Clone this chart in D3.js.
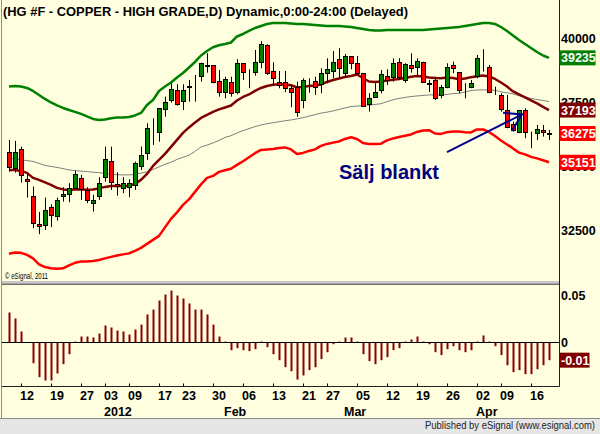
<!DOCTYPE html>
<html>
<head>
<meta charset="utf-8">
<script src="https://cdn.jsdelivr.net/npm/d3@7"></script>
<style>
  body { margin: 0; background: #ffffe0; }
  svg { display: block; }
</style>
</head>
<body>
<div id="chart"></div>
<script>
'use strict';

/* Trading calendar (weekdays minus exchange holidays) */
var firstDay = '2011-12-07';
var lastDay = '2012-04-18';
var holidays = ['2011-12-26', '2012-01-02', '2012-01-16', '2012-02-20', '2012-04-06'];

/* Daily OHLC, HG #F */
var open = [35543, 34918, 35672, 34499, 33823, 32728, 32689, 33416, 33041, 33823,
            33901, 34159, 34527, 34057, 33549, 33846, 34565, 35191, 34292, 34136,
            34175, 34265, 35007, 35527, 36415, 36349, 37236, 37588, 37979, 37537,
            38110, 38280, 38526, 38929, 38957, 38331, 37913, 38303, 37913, 39023,
            38788, 38695, 39085, 39739, 38734, 38303, 38303, 38046, 38085, 37588,
            38343, 38331, 38202, 38655, 38734, 39179, 38655, 39308, 39023, 38632,
            37432, 37717, 37979, 38538, 38476, 39085, 38370, 38957, 38867, 39062,
            38253, 38370, 37784, 38085, 38957, 38671, 38018, 38085, 38526, 39152,
            38867, 37913, 37784, 37197, 36638, 36349, 37197, 36259, 36286, 36415,
            36286];
var high = [36024, 35985, 35762, 34695, 34198, 33209, 33768, 33510, 33768, 34175,
            34331, 34824, 34656, 34175, 33874, 34565, 35762, 35762, 34761, 34565,
            34487, 35176, 35762, 36677, 36872, 37264, 37717, 38241, 38202, 38202,
            38370, 38566, 39046, 39414, 38957, 38761, 38499, 38499, 39179, 39023,
            38788, 39543, 39895, 39766, 39062, 38722, 38722, 38174, 38303, 38436,
            38436, 38499, 38827, 39218, 39504, 39610, 39387, 39308, 39308, 38632,
            37850, 38241, 38761, 38788, 39218, 39218, 39023, 39414, 39218, 39085,
            38370, 38499, 38174, 39023, 39085, 38671, 38241, 38370, 39348, 39570,
            38957, 38108, 37850, 37784, 36739, 37197, 37263, 36349, 36610, 36610,
            36415];
var low = [34785, 34746, 34355, 33768, 32571, 32337, 32505, 32611, 32869, 33612,
           33588, 34069, 33678, 33549, 33221, 33678, 34393, 34069, 33846, 33940,
           33783, 34069, 34851, 35242, 35829, 35957, 36935, 37482, 37365, 37197,
           37522, 37522, 38303, 38655, 38241, 37717, 37654, 37717, 37811, 38370,
           38046, 38538, 38827, 38566, 38174, 38046, 37889, 37303, 36935, 37263,
           37873, 37784, 37850, 38241, 38436, 38436, 38499, 38788, 38566, 37326,
           37131, 37678, 37850, 38174, 38303, 38370, 38264, 38655, 38499, 38264,
           37901, 37588, 37654, 38046, 38632, 37850, 37654, 38046, 38436, 38694,
           37850, 37784, 37131, 36482, 36349, 36349, 36091, 35700, 36024, 36153,
           36024];
var close = [34980, 35543, 34656, 34421, 32767, 32650, 33287, 33080, 33678, 33901,
             34136, 34695, 34096, 33678, 33678, 34331, 35269, 34382, 34225, 34331,
             34331, 35113, 35426, 36482, 36400, 37264, 37498, 38006, 37432, 37979,
             38115, 38272, 39023, 38937, 38280, 37913, 38397, 37850, 39023, 38671,
             38781, 39085, 39766, 38632, 38436, 38174, 38046, 37913, 37119, 38370,
             38335, 38108, 38632, 38788, 39085, 38827, 39308, 39046, 38632, 37365,
             37654, 37901, 38593, 38370, 39023, 38499, 38984, 38827, 39113, 38303,
             38214, 37678, 38085, 38867, 38827, 37979, 37998, 38264, 39218, 39144,
             37913, 37905, 37224, 36544, 36415, 37197, 36349, 36251, 36442, 36337,
             36275];

/* Studies */
var upperBand = [38116, 38135, 38116, 38057, 37940, 37784, 37627, 37490, 37373, 37275,
                 37197, 37119, 37041, 36943, 36845, 36806, 36826, 36873, 36904, 36904,
                 36923, 36982, 37080, 37393, 37588, 37940, 38116, 38272, 38468, 38644,
                 38859, 39074, 39328, 39504, 39649, 39727, 39778, 39836, 40071, 40169,
                 40286, 40403, 40481, 40560, 40599, 40599, 40599, 40579, 40560, 40560,
                 40540, 40520, 40501, 40481, 40481, 40481, 40462, 40442, 40403, 40364,
                 40325, 40306, 40306, 40325, 40325, 40325, 40325, 40325, 40325, 40325,
                 40345, 40364, 40384, 40403, 40423, 40442, 40481, 40520, 40560, 40599,
                 40599, 40560, 40442, 40286, 40110, 39934, 39778, 39621, 39465, 39328,
                 39235];
var fastAvg = [34851, 34851, 34812, 34734, 34538, 34460, 34362, 34265, 34147, 34089,
               34069, 34089, 34097, 34077, 34081, 34128, 34186, 34225, 34225, 34225,
               34225, 34304, 34460, 34695, 35007, 35242, 35477, 35750, 36024, 36298,
               36513, 36708, 36884, 37002, 37119, 37217, 37295, 37373, 37568, 37705,
               37803, 37940, 38057, 38135, 38186, 38202, 38194, 38163, 38077, 38096,
               38135, 38155, 38194, 38292, 38370, 38429, 38487, 38526, 38585, 38448,
               38311, 38292, 38311, 38350, 38382, 38409, 38448, 38499, 38526, 38507,
               38468, 38448, 38440, 38468, 38448, 38401, 38429, 38480, 38515, 38546,
               38507, 38409, 38272, 38116, 37920, 37803, 37686, 37568, 37451, 37315,
               37193];
var slowAvg = [35320, 35281, 35242, 35215, 35183, 35105, 35027, 34988, 34949, 34902,
               34851, 34824, 34804, 34785, 34761, 34742, 34714, 34687, 34663, 34656,
               34656, 34675, 34726, 34773, 34871, 34968, 35074, 35152, 35262, 35348,
               35426, 35574, 35750, 35821, 35907, 36004, 36122, 36188, 36298, 36388,
               36466, 36544, 36610, 36657, 36697, 36736, 36775, 36806, 36845, 36892,
               36955, 37013, 37072, 37111, 37158, 37217, 37275, 37330, 37346, 37365,
               37389, 37412, 37440, 37522, 37596, 37647, 37686, 37721, 37744, 37764,
               37784, 37784, 37784, 37803, 37838, 37850, 37901, 37955, 37979, 37979,
               37979, 37971, 37905, 37870, 37823, 37752, 37705, 37647, 37608, 37568,
               37522];
var lowerBand = [31567, 31617, 31606, 31528, 31391, 31156, 31051, 31004, 30980, 31000,
                 31117, 31215, 31266, 31266, 31285, 31324, 31391, 31449, 31500, 31547,
                 31586, 31684, 31801, 31958, 32114, 32270, 32603, 32935, 33189, 33483,
                 33698, 33991, 34284, 34538, 34616, 34773, 34839, 34898, 35047, 35191,
                 35348, 35504, 35633, 35653, 35672, 35711, 35731, 35653, 35477, 35516,
                 35594, 35653, 35789, 35868, 35918, 35965, 36063, 36130, 36063, 35907,
                 35868, 35868, 35879, 36004, 36083, 36141, 36188, 36239, 36337, 36396,
                 36407, 36274, 36259, 36329, 36349, 36349, 36329, 36318, 36435, 36435,
                 36337, 36180, 36004, 35848, 35692, 35528, 35458, 35360, 35301, 35231,
                 35151];
var oscillator = [0.0316, 0.0253, 0.0116, 0, -0.0218, -0.0365, -0.040, -0.040, -0.0326, -0.0228,
                  -0.0123, 0.001, 0.0063, 0.0063, 0.0053, 0.0095, 0.0179, 0.0158, 0.0126, 0.0116,
                  0.0084, 0.0137, 0.0189, 0.0295, 0.0347, 0.0442, 0.0505, 0.0547, 0.0495, 0.0463,
                  0.0411, 0.0347, 0.0347, 0.0295, 0.0189, 0.0063, 0.001, -0.0081, -0.006, -0.0081,
                  -0.0091, -0.007, 0.001, -0.0049, -0.0123, -0.0186, -0.026, -0.0302, -0.039, -0.0347,
                  -0.0291, -0.026, -0.0175, -0.0102, -0.0018, 0.001, 0.0053, 0.0053, 0.001, -0.0123,
                  -0.0196, -0.0228, -0.0186, -0.0154, -0.0081, -0.006, 0.001, 0.0032, 0.0063, 0.001,
                  -0.0018, -0.0102, -0.0133, -0.007, -0.0039, -0.0081, -0.0102, -0.0081, 0.001, 0.0074,
                  0.001, -0.0039, -0.0133, -0.0239, -0.0312, -0.0291, -0.0333, -0.0333, -0.0281, -0.0239,
                  -0.0186];

var priceTicks = [32500, 35000, 37500, 40000];
var oscTicks = [0, 0.05];

/* Annotation */
var arrowFrom = {day: 73, price: 35543};
var arrowTo = {day: 85.5, price: 37021};
var noteText = {day: 55, price: 34500, text: 'Sälj blankt'};

var titleText = '(HG #F - COPPER - HIGH GRADE,D) Dynamic,0:00-24:00 (Delayed)';

var W = 600, H = 434;
var font = "'Liberation Sans', Arial, sans-serif";
var plotRight = 559.5;
var axisY = 386.5;

var parse = d3.timeParse('%Y-%m-%d');
var fmt = d3.timeFormat('%Y-%m-%d');
var days = d3.timeDay.range(parse(firstDay), d3.timeDay.offset(parse(lastDay), 1))
  .filter(function (d) {
    return d.getDay() !== 0 && d.getDay() !== 6 && holidays.indexOf(fmt(d)) < 0;
  });
var dates = days.map(fmt);

var x = d3.scalePoint().domain(dates).range([9, 549]);
var y = d3.scaleLinear().domain([32500, 40000]).range([230, 38.3]);
var yOsc = d3.scaleLinear().domain([0, 0.05]).range([342.5, 295]);

function xAt(pos) {
  var i = Math.floor(pos), f = pos - i;
  return f ? x(dates[i]) + f * x.step() : x(dates[i]);
}

var svg = d3.select('#chart').append('svg')
  .attr('width', W)
  .attr('height', H);

/* Background */

svg.append('rect')
  .attr('width', W)
  .attr('height', H)
  .style('fill', '#ffffe0');

/* Title */

svg.append('text')
  .text(titleText)
  .attr('x', 3)
  .attr('y', 15.5)
  .attr('textLength', 405)
  .attr('lengthAdjust', 'spacingAndGlyphs')
  .style('font-family', font)
  .style('font-weight', 'bold')
  .style('font-size', '13px')
  .style('fill', '#000');

/* Study lines */

function studyLine(values, color, width) {
  svg.append('path')
    .datum(values)
    .attr('d', d3.line()
      .x(function (d, i) { return x(dates[i]); })
      .y(function (d) { return y(d); }))
    .style('fill', 'none')
    .style('stroke', color)
    .style('stroke-width', width)
    .style('stroke-linejoin', 'round');
}

studyLine(slowAvg, '#808080', 1);
studyLine(lowerBand, '#ff0000', 2.5);
studyLine(upperBand, '#008000', 2.5);
studyLine(fastAvg, '#800000', 2.5);

/* Candles */

var candles = dates.map(function (d, i) {
  return {date: d, o: open[i], h: high[i], l: low[i], c: close[i]};
});

svg.append('g').selectAll('line')
  .data(candles)
  .enter()
  .append('line')
  .attr('x1', function (d) { return x(d.date) + 0.5; })
  .attr('x2', function (d) { return x(d.date) + 0.5; })
  .attr('y1', function (d) { return y(d.h); })
  .attr('y2', function (d) { return y(d.l); })
  .style('stroke', '#000')
  .style('stroke-width', 1);

svg.append('g').selectAll('rect')
  .data(candles)
  .enter()
  .append('rect')
  .attr('x', function (d) { return x(d.date) - 1.5; })
  .attr('y', function (d) { return Math.round(y(Math.max(d.o, d.c))) + 0.5; })
  .attr('width', 4)
  .attr('height', function (d) {
    return Math.max(0, Math.round(y(Math.min(d.o, d.c))) - Math.round(y(Math.max(d.o, d.c))));
  })
  .style('fill', function (d) { return d.c >= d.o ? '#008000' : '#ff0000'; })
  .style('stroke', '#000')
  .style('stroke-width', 1);

/* Annotation arrow */

var ax1 = xAt(arrowFrom.day), ay1 = y(arrowFrom.price);
var ax2 = xAt(arrowTo.day), ay2 = y(arrowTo.price);
var ang = Math.atan2(ay1 - ay2, ax1 - ax2);
var barb = 19;

svg.append('path')
  .attr('d', 'M' + ax1 + ',' + ay1 + 'L' + ax2 + ',' + ay2 +
    'M' + (ax2 + barb * Math.cos(ang - 0.55)) + ',' + (ay2 + barb * Math.sin(ang - 0.55)) +
    'L' + ax2 + ',' + ay2 +
    'L' + (ax2 + barb * Math.cos(ang + 0.55)) + ',' + (ay2 + barb * Math.sin(ang + 0.55)))
  .style('fill', 'none')
  .style('stroke', '#000090')
  .style('stroke-width', 2);

svg.append('text')
  .text(noteText.text)
  .attr('x', xAt(noteText.day))
  .attr('y', y(noteText.price))
  .style('font-family', font)
  .style('font-weight', 'bold')
  .style('font-size', '20px')
  .style('fill', '#000080');

/* Copyright */

svg.append('text')
  .text('\u00a9 eSignal, 2011')
  .attr('x', 5)
  .attr('y', 278.5)
  .attr('textLength', 43)
  .attr('lengthAdjust', 'spacingAndGlyphs')
  .style('font-family', font)
  .style('font-size', '8.5px')
  .style('fill', '#000');

/* Panel separator */

svg.append('rect')
  .attr('x', 2)
  .attr('y', 281)
  .attr('width', plotRight - 2)
  .attr('height', 2.5)
  .style('fill', '#c8c8c8');

svg.append('rect')
  .attr('x', 2)
  .attr('y', 283.5)
  .attr('width', plotRight - 2)
  .attr('height', 1.5)
  .style('fill', '#6e6e6e');

/* Oscillator histogram */

svg.append('g').selectAll('rect')
  .data(oscillator)
  .enter()
  .append('rect')
  .attr('x', function (d, i) { return x(dates[i]) - 0.5; })
  .attr('y', function (d) { return Math.min(yOsc(d), yOsc(0)); })
  .attr('width', 2)
  .attr('height', function (d) { return Math.abs(yOsc(d) - yOsc(0)); })
  .style('fill', '#8b0000');

svg.append('line')
  .attr('x1', 2)
  .attr('x2', plotRight)
  .attr('y1', yOsc(0))
  .attr('y2', yOsc(0))
  .style('stroke', '#000')
  .style('stroke-width', 1);

/* Frame */

svg.append('line')
  .attr('x1', 1.5).attr('x2', 1.5)
  .attr('y1', 0).attr('y2', 419)
  .style('stroke', '#909090');

svg.append('line')
  .attr('x1', plotRight).attr('x2', plotRight)
  .attr('y1', 0).attr('y2', axisY)
  .style('stroke', '#202020');

svg.append('line')
  .attr('x1', 2).attr('x2', plotRight)
  .attr('y1', axisY).attr('y2', axisY)
  .style('stroke', '#202020');

/* Price axis */

svg.append('g').selectAll('text')
  .data(priceTicks)
  .enter()
  .append('text')
  .text(function (d) { return d; })
  .attr('x', 561)
  .attr('y', function (d) { return y(d) + 4.5; })
  .style('font-family', font)
  .style('font-weight', 'bold')
  .style('font-size', '12.5px')
  .style('fill', '#000');

var lastIdx = dates.length - 1;
var priceFlags = [
  {v: upperBand[lastIdx], fill: '#008000'},
  {v: fastAvg[lastIdx], fill: '#800000'},
  {v: close[lastIdx], fill: close[lastIdx] >= open[lastIdx] ? '#008000' : '#ff0000'},
  {v: lowerBand[lastIdx], fill: '#ff0000'}
];

var flags = svg.append('g').selectAll('g')
  .data(priceFlags)
  .enter()
  .append('g');

flags.append('rect')
  .attr('x', plotRight)
  .attr('y', function (d) { return y(d.v) - 7.5; })
  .attr('width', 36)
  .attr('height', 15)
  .style('fill', function (d) { return d.fill; });

flags.append('text')
  .text(function (d) { return d.v; })
  .attr('x', 561)
  .attr('y', function (d) { return y(d.v) + 4.5; })
  .style('font-family', font)
  .style('font-weight', 'bold')
  .style('font-size', '12.5px')
  .style('fill', '#fff');

/* Oscillator axis */

svg.append('g').selectAll('text')
  .data(oscTicks)
  .enter()
  .append('text')
  .text(function (d) { return d === 0 ? '0' : d.toFixed(2); })
  .attr('x', 561)
  .attr('y', function (d) { return yOsc(d) + 4.5; })
  .style('font-family', font)
  .style('font-weight', 'bold')
  .style('font-size', '12.5px')
  .style('fill', '#000');

var lastOsc = oscillator[lastIdx];

svg.append('rect')
  .attr('x', plotRight)
  .attr('y', yOsc(lastOsc) - 7.5)
  .attr('width', 30)
  .attr('height', 15)
  .style('fill', '#800000');

svg.append('text')
  .text((Math.trunc(lastOsc * 100) / 100).toFixed(2))
  .attr('x', 561)
  .attr('y', yOsc(lastOsc) + 4.5)
  .style('font-family', font)
  .style('font-weight', 'bold')
  .style('font-size', '12.5px')
  .style('fill', '#fff');

/* Date axis */

var weekStarts = [], monthStarts = [];
days.forEach(function (d, i) {
  if (i === 0) return;
  if (d.getDay() < days[i - 1].getDay()) weekStarts.push(i);
  if (d.getMonth() !== days[i - 1].getMonth()) monthStarts.push(i);
});

svg.append('g').selectAll('line')
  .data(weekStarts)
  .enter()
  .append('line')
  .attr('x1', function (i) { return x(dates[i - 1]) + 0.5; })
  .attr('x2', function (i) { return x(dates[i - 1]) + 0.5; })
  .attr('y1', axisY - 3)
  .attr('y2', axisY)
  .style('stroke', '#000');

svg.append('g').selectAll('text')
  .data(weekStarts)
  .enter()
  .append('text')
  .text(function (i) { return d3.timeFormat('%d')(days[i]); })
  .attr('x', function (i) { return x(dates[i]); })
  .attr('y', 400)
  .attr('text-anchor', 'middle')
  .style('font-family', font)
  .style('font-weight', 'bold')
  .style('font-size', '12.5px')
  .style('fill', '#000');

svg.append('g').selectAll('text')
  .data(monthStarts)
  .enter()
  .append('text')
  .text(function (i) {
    return days[i].getMonth() === 0 ? d3.timeFormat('%Y')(days[i]) : d3.timeFormat('%b')(days[i]);
  })
  .attr('x', function (i) { return x(dates[i - 1]) - 1; })
  .attr('y', 416)
  .style('font-family', font)
  .style('font-weight', 'bold')
  .style('font-size', '12.5px')
  .style('fill', '#000');

/* Status bar */

svg.append('rect')
  .attr('x', 0)
  .attr('y', 419)
  .attr('width', W)
  .attr('height', 15)
  .style('fill', '#e6e6e6');

svg.append('line')
  .attr('x1', 0).attr('x2', W)
  .attr('y1', 418.5).attr('y2', 418.5)
  .style('stroke', '#8a8a8a');

svg.append('text')
  .text('Published by eSignal (www.esignal.com)')
  .attr('x', 595)
  .attr('y', 429)
  .attr('text-anchor', 'end')
  .attr('textLength', 170)
  .attr('lengthAdjust', 'spacingAndGlyphs')
  .style('font-family', font)
  .style('font-size', '10.5px')
  .style('fill', '#222');
</script>
</body>
</html>
